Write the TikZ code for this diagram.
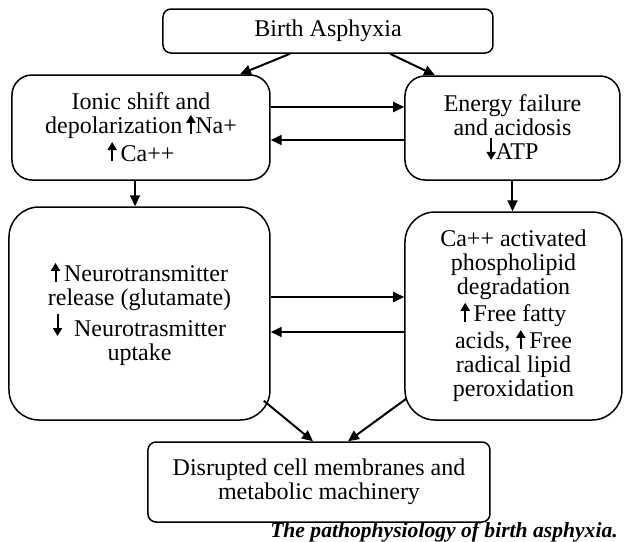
\documentclass[tikz,border=0pt]{standalone}
\usepackage{fontspec}
\setmainfont{Liberation Serif}
\usetikzlibrary{arrows.meta}
\newcommand{\upar}{\tikz[baseline=0pt]\draw[line width=1pt,-{Triangle[length=4pt,width=4.5pt]}] (0,0) -- (0,9.5pt);}
\newcommand{\dnar}{\tikz[baseline=-1pt]\draw[line width=1pt,-{Triangle[length=4pt,width=4.5pt]}] (0,10pt) -- (0,-1pt);}
\begin{document}
\begin{tikzpicture}[x=0.5pt, y=-0.5pt,
    box/.style={draw, line width=0.75pt, align=center, inner sep=0pt,
      font=\fontsize{12}{12}\selectfont},
    flow/.style={line width=1pt, -{Triangle[length=5.5pt,width=5pt]}}]
    \useasboundingbox (0,0) rectangle (629,542);
    % Kaesten
    \node[box, rounded corners=4pt, minimum width=165pt, minimum height=22pt] (birth) at (328,31) {Birth Asphyxia};
    \node[box, rounded corners=10pt, minimum width=129pt, minimum height=52.5pt] (ionic) at (141,127.5)
      {Ionic shift and\\depolarization\,\upar Na+\\\upar\,Ca++};
    \node[box, rounded corners=10pt, minimum width=107.5pt, minimum height=52pt] (energy) at (512.5,128)
      {Energy failure\\and acidosis\\\dnar ATP};
    \node[box, rounded corners=15pt, minimum width=130.5pt, minimum height=106.5pt] (neuro) at (139.5,313.5)
      {\upar\,Neurotransmitter\\release (glutamate)\\\dnar\ \ Neurotrasmitter\\uptake};
    \node[box, rounded corners=15pt, minimum width=108.5pt, minimum height=104pt] (phospho) at (513.5,316)
      {Ca++ activated\\phospholipid\\degradation\\\upar\,Free fatty\\acids, \upar\,Free\\radical lipid\\peroxidation};
    \node[box, rounded corners=4pt, minimum width=171pt, minimum height=40pt] (membrane) at (319,482)
      {Disrupted cell membranes and\\metabolic machinery};
    % Unterschrift
    \node[font=\fontsize{10.8}{12}\selectfont\bfseries\itshape] (caption) at (444,532) {The pathophysiology of birth asphyxia.};
    % Pfeile oben
    \draw[flow] ([xshift=-19pt]birth.south) -- ([xshift=49.5pt]ionic.north);
    \draw[flow] ([xshift=31pt]birth.south) -- ([xshift=-38.75pt]energy.north);
    \draw[flow] ([yshift=10.25pt]ionic.east) -- ([yshift=10.25pt]ionic.east -| energy.west);
    \draw[flow] ([yshift=-6.25pt]ionic.east -| energy.west) -- ([yshift=-6.25pt]ionic.east);
    % Pfeile Mitte
    \draw[flow] ([xshift=-3pt]ionic.south) -- ([xshift=-3pt]ionic.south |- neuro.north);
    \draw[flow] (energy.south) -- (energy.south |- phospho.north);
    \draw[flow] ([yshift=8.25pt]neuro.east) -- ([yshift=8.25pt]neuro.east -| phospho.west);
    \draw[flow] ([yshift=-9.25pt]neuro.east -| phospho.west) -- ([yshift=-9.25pt]neuro.east);
    % Pfeile unten
    \draw[flow] ([xshift=-3.5pt,yshift=10pt]neuro.south east) -- ([xshift=-3pt]membrane.north);
    \draw[flow] ([xshift=1pt,yshift=11pt]phospho.south west) -- ([xshift=14.5pt]membrane.north);
\end{tikzpicture}
\end{document}
